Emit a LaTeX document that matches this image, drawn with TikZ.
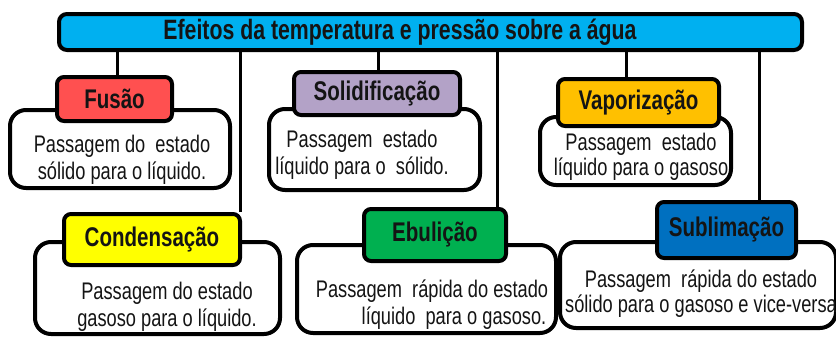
\documentclass[tikz,border=0pt]{standalone}
\usepackage{fontspec}
\setmainfont{Liberation Sans}
\newfontfamily\nf[FakeStretch=0.76]{Liberation Sans}
\definecolor{ctitle}{HTML}{00B0F0}
\definecolor{cfus}{HTML}{FF5050}
\definecolor{csol}{HTML}{B3A2C7}
\definecolor{cvap}{HTML}{FFC000}
\definecolor{ccon}{HTML}{FFFF00}
\definecolor{cebu}{HTML}{00B050}
\definecolor{csub}{HTML}{0070C0}
\definecolor{ink}{HTML}{141414}
\begin{document}
\begin{tikzpicture}[x=1pt,y=-1pt,
  descbox/.style 2 args={draw=black, line width=4pt, rounded corners=16pt, fill=white,
     inner sep=0pt, minimum width=#1, minimum height=#2},
  labbox/.style n args={3}{draw=black, line width=4pt, rounded corners=7pt, fill=#3,
     inner sep=0pt, minimum width=#1, minimum height=#2, text=ink,
     font=\nf\bfseries\fontsize{27}{30}\selectfont},
  desctext/.style={align=center, inner sep=0pt, text=ink,
     font=\nf\fontsize{24}{27}\selectfont},
  desctextb/.style={align=center, inner sep=0pt, text=ink,
     font=\nf\fontsize{24}{25}\selectfont},
  conn/.style={draw=black, line width=3pt}]
\useasboundingbox (0,0) rectangle (836,338);
\fill[white] (0,0) rectangle (836,338);

% description boxes
\node[descbox={220}{78}] (fusd) at (120,149) {};
\node[descbox={211}{81}] (sold) at (374.5,149.5) {};
\node[descbox={191}{68}] (vapd) at (635.5,151) {};
\node[descbox={245}{92}] (cond) at (157.5,288) {};
\node[descbox={259}{88}] (ebud) at (426.5,289) {};
\node[descbox={276}{86}] (subd) at (698,285) {};

% title box
\node[draw=black, line width=4pt, rounded corners=8pt, fill=ctitle, inner sep=0pt,
      minimum width=743, minimum height=36] (title) at (430.5,32) {};

% label boxes
\node[labbox={115}{44}{cfus}] (fus) at (114.5,99) {Fusão};
\node[labbox={166}{43}{csol}] (sol) at (377,93.5) {Solidificação};
\node[labbox={161}{47}{cvap}] (vap) at (638.5,102.5) {Vaporização};
\node[labbox={176}{51}{ccon}] (con) at (152,239.5) {Condensação};
\node[labbox={142}{52}{cebu}] (ebu) at (435,235) {Ebulição};
\node[labbox={139}{56}{csub}] (sub) at (726.5,230) {Sublimação};

% connectors
\draw[conn] (fus.north) ++(2.5,0) coordinate (c1) -- (c1 |- title.south);
\draw[conn] (con.north) ++(88,0) coordinate (c2) -- (c2 |- title.south);
\draw[conn] (sol.north) ++(1,0) coordinate (c3) -- (c3 |- title.south);
\draw[conn] (ebu.north) ++(62,0) coordinate (c4) -- (c4 |- title.south);
\draw[conn] (vap.north) ++(-12.5,0) coordinate (c5) -- (c5 |- title.south);
\draw[conn] (sub.north) ++(32.5,0) coordinate (c6) -- (c6 |- title.south);

% title text
\node[inner sep=0pt, text=ink, font=\nf\bfseries\fontsize{28}{30}\selectfont] (tt) at (400,32)
  {Efeitos da temperatura e pressão sobre a água};

% description texts
\node[desctext] (fust) at (122,159.5) {Passagem do~ estado\\sólido para o líquido.};
\node[desctext] (solt) at (362,154.5) {Passagem~ estado\\líquido para o~ sólido.};
\node[desctextb] (vapt) at (641,156.5) {Passagem~ estado\\líquido para o gasoso};
\node[desctext] (cont) at (167,307) {Passagem do estado\\gasoso para o líquido.};
\node[desctext] (ebut) at (432,304.5) {Passagem~ rápida do estado\\\hspace*{44pt}líquido~ para o gasoso.};
\node[desctextb] (subt) at (701,293.5) {Passagem~ rápida do estado\\sólido para o gasoso e vice-versa};
\end{tikzpicture}
\end{document}
